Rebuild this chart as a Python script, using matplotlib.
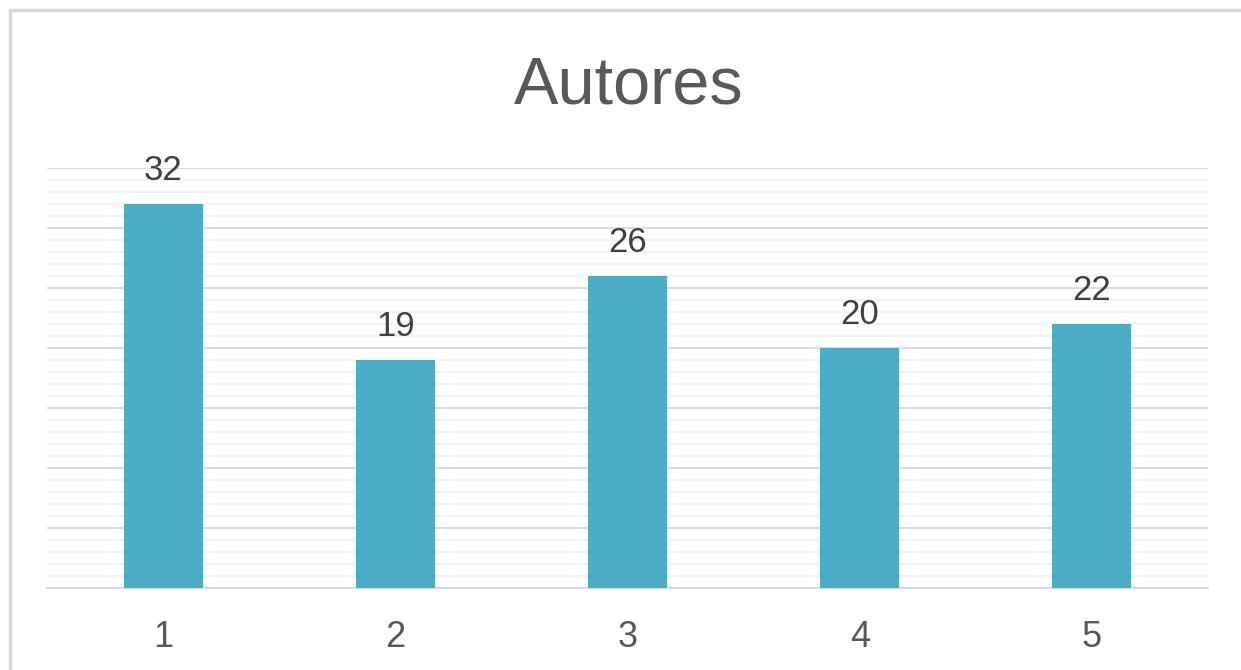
import matplotlib
matplotlib.use("Agg")
import matplotlib.pyplot as plt
from matplotlib.patches import Rectangle
from matplotlib.ticker import MultipleLocator

categories = ["1", "2", "3", "4", "5"]
values = [32, 19, 26, 20, 22]
title = "Autores"

plt.rcParams['font.family'] = ['Liberation Sans', 'DejaVu Sans']

W, H = 1241, 670
fig = plt.figure(figsize=(W / 100, H / 100), dpi=100)
fig.patch.set_facecolor("white")

# outer chart frame
fig.patches.append(Rectangle((10 / W, -0.1), 1.2, 1 - 10 / H + 0.1,
                             transform=fig.transFigure, fill=False,
                             edgecolor="#D9D9D9", linewidth=2.5))

ax = fig.add_axes([47 / W, (H - 588) / H, (1208 - 47) / W, (588 - 168) / H])
x = list(range(len(categories)))
ax.bar(x, values, width=0.34, color="#4BACC6", zorder=3)
ax.set_xlim(-0.5, len(categories) - 0.5)
ax.set_ylim(0, 35)
ax.yaxis.set_major_locator(MultipleLocator(5))
ax.yaxis.set_minor_locator(MultipleLocator(1))
ax.grid(axis="y", which="major", color="#D9D9D9", linewidth=1.3, zorder=0)
ax.grid(axis="y", which="minor", color="#F0F0F0", linewidth=1.3, zorder=0)
ax.set_xticks(x)
ax.set_xticklabels(categories, fontsize=26, color="#595959")
ax.tick_params(axis="x", length=0, pad=23)
ax.tick_params(axis="y", which="both", length=0, labelleft=False)
for s in ["top", "right", "left"]:
    ax.spines[s].set_visible(False)
ax.spines["bottom"].set_color("#D9D9D9")
ax.spines["bottom"].set_linewidth(1.5)

for xi, v in zip(x, values):
    ax.annotate(str(v), (xi, v), xytext=(0, 17), textcoords="offset points",
                ha="center", va="baseline", fontsize=25, color="#404040")

fig.text((47 + 1208) / 2 / W + 0.001, 1 - 104 / H, title, ha="center", va="baseline",
         fontsize=48, color="#595959")

fig.savefig("out.png", dpi=100)
